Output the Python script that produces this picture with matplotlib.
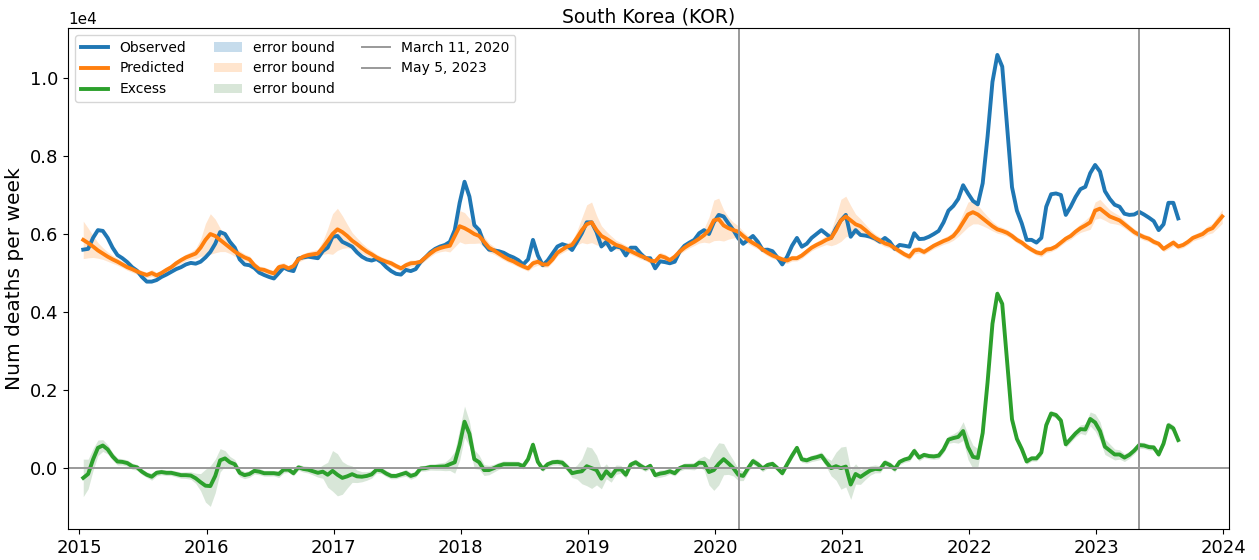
import numpy as np
import matplotlib
matplotlib.use('Agg')
import matplotlib.pyplot as plt

# Weekly deaths, South Korea, sampled every ~2 weeks (decimal years from start_year)
start_year = 2015.03
step = 1 / 26

observed = [
    5600, 5620, 5900, 6100, 6080, 5900, 5650, 5460, 5380, 5280, 5150, 5060, 4900, 4780, 4780, 4820, 4900, 4960, 5030, 5100, 5150, 5220, 5260, 5240, 5290, 5400,
    5540, 5750, 6050, 6000, 5800, 5650, 5350, 5220, 5200, 5130, 5010, 4950, 4900, 4860, 5000, 5140, 5080, 5050, 5370, 5400, 5420, 5400, 5380, 5560, 5650, 5930,
    5950, 5800, 5740, 5675, 5530, 5420, 5350, 5320, 5360, 5280, 5150, 5050, 4980, 4960, 5080, 5050, 5100, 5280, 5400, 5530, 5620, 5680, 5720, 5800, 6100, 6800,
    7340, 6960, 6230, 6100, 5750, 5600, 5580, 5560, 5520, 5450, 5400, 5330, 5220, 5350, 5850, 5450, 5200, 5320, 5500, 5680, 5740, 5700, 5590, 5800, 6020, 6300,
    6300, 6050, 5680, 5800, 5590, 5680, 5650, 5450, 5650, 5650, 5500, 5380, 5380, 5120, 5300, 5280, 5250, 5290, 5550, 5700, 5780, 5850, 6020, 6100, 6000, 6300,
    6490, 6450, 6270, 6100, 5890, 5750, 5850, 5950, 5800, 5590, 5600, 5560, 5400, 5220, 5420, 5700, 5900, 5675, 5750, 5900, 6000, 6100, 6000, 5900, 6150, 6350,
    6490, 5930, 6100, 5975, 5960, 5930, 5880, 5800, 5900, 5800, 5620, 5720, 5700, 5675, 6020, 5870, 5880, 5930, 6000, 6080, 6300, 6600, 6720, 6900, 7250, 7040,
    6850, 6760, 7300, 8500, 9900, 10590, 10290, 8750, 7200, 6600, 6270, 5850, 5850, 5780, 5900, 6700, 7020, 7040, 7000, 6490, 6700, 6950, 7150, 7210, 7560, 7770,
    7600, 7100, 6900, 6750, 6700, 6520, 6490, 6500, 6570, 6500, 6420, 6330, 6100, 6250, 6800, 6800, 6400,
]

predicted = [
    5850, 5770, 5680, 5580, 5500, 5420, 5350, 5290, 5220, 5150, 5100, 5040, 4990, 4950, 5000, 4940, 5000, 5080, 5150, 5250, 5330, 5400, 5450, 5500, 5650, 5850,
    6000, 5950, 5850, 5750, 5650, 5550, 5470, 5400, 5350, 5200, 5100, 5080, 5030, 4990, 5150, 5180, 5120, 5180, 5350, 5420, 5460, 5480, 5500, 5650, 5820, 6000,
    6120, 6050, 5950, 5830, 5740, 5640, 5550, 5480, 5400, 5340, 5290, 5250, 5180, 5120, 5200, 5250, 5260, 5290, 5400, 5500, 5590, 5640, 5675, 5700, 5950, 6200,
    6150, 6080, 6000, 5950, 5800, 5650, 5580, 5500, 5420, 5350, 5300, 5230, 5170, 5120, 5250, 5290, 5220, 5220, 5350, 5520, 5600, 5680, 5720, 5900, 6100, 6250,
    6300, 6100, 5950, 5880, 5800, 5720, 5680, 5620, 5560, 5500, 5440, 5390, 5320, 5300, 5440, 5400, 5330, 5420, 5550, 5650, 5730, 5800, 5880, 5970, 6100, 6350,
    6380, 6220, 6150, 6100, 6060, 5950, 5850, 5770, 5700, 5600, 5520, 5450, 5400, 5350, 5320, 5380, 5380, 5450, 5550, 5650, 5720, 5780, 5850, 5900, 6100, 6350,
    6450, 6350, 6250, 6200, 6100, 5990, 5900, 5830, 5760, 5720, 5640, 5560, 5480, 5420, 5580, 5600, 5540, 5620, 5700, 5760, 5820, 5870, 5950, 6100, 6300, 6500,
    6560, 6500, 6400, 6300, 6200, 6120, 6080, 6030, 5950, 5850, 5780, 5680, 5600, 5530, 5500, 5600, 5620, 5680, 5780, 5880, 5950, 6060, 6150, 6220, 6300, 6600,
    6650, 6550, 6450, 6400, 6350, 6250, 6150, 6050, 5980, 5920, 5880, 5800, 5750, 5620, 5700, 5780, 5680, 5720, 5800, 5900, 5950, 6000, 6100, 6150, 6300, 6450,
]

# half-width of the prediction error bound
bound = [
    480, 380, 280, 200, 150, 120, 100, 90, 80, 80, 80, 75, 75, 70, 90, 80, 70, 70, 70, 75, 80, 85, 95, 130, 220, 420,
    520, 430, 300, 200, 150, 120, 100, 90, 85, 80, 80, 75, 75, 70, 90, 85, 70, 70, 75, 80, 85, 95, 110, 170, 320, 520,
    540, 420, 300, 210, 160, 130, 110, 95, 85, 80, 80, 75, 70, 70, 90, 85, 70, 70, 75, 80, 85, 95, 110, 160, 280, 400,
    400, 320, 240, 180, 140, 120, 100, 90, 85, 80, 80, 75, 70, 70, 100, 90, 70, 70, 75, 80, 85, 95, 110, 180, 320, 500,
    520, 380, 260, 190, 150, 120, 100, 90, 85, 80, 80, 75, 70, 70, 95, 85, 70, 70, 75, 80, 85, 95, 110, 180, 330, 520,
    540, 400, 280, 200, 150, 120, 100, 90, 85, 80, 80, 75, 70, 70, 75, 75, 70, 75, 75, 80, 85, 95, 120, 200, 360, 540,
    520, 380, 260, 190, 150, 120, 100, 90, 85, 80, 80, 75, 70, 80, 95, 85, 70, 70, 75, 80, 85, 95, 110, 160, 240, 320,
    300, 240, 190, 150, 120, 100, 90, 85, 80, 80, 75, 70, 70, 70, 85, 85, 70, 70, 75, 80, 85, 95, 110, 140, 180, 220,
    240, 200, 170, 140, 120, 100, 90, 85, 80, 80, 75, 70, 70, 70, 85, 85, 70, 70, 75, 80, 85, 95, 105, 120, 150, 180,
]

events = [(2020 + 70 / 366, 'March 11, 2020'), (2023 + 124 / 365, 'May 5, 2023')]

obs = np.array(observed, dtype=float)
pred = np.array(predicted, dtype=float)
bnd = np.array(bound, dtype=float)
t_pred = start_year + step * np.arange(len(pred))
t_obs = t_pred[:len(obs)]
excess = obs - pred[:len(obs)]
b_obs = bnd[:len(obs)]

fig = plt.figure(figsize=(12.59, 5.6), dpi=100)
ax = fig.add_axes([68 / 1259, 31 / 560, 1161 / 1259, 501 / 560])

ax.plot(t_obs, obs, color='tab:blue', lw=2.8, label='Observed')
ax.plot(t_pred, pred, color='tab:orange', lw=2.8, label='Predicted')
ax.plot(t_obs, excess, color='tab:green', lw=2.8, label='Excess')
ax.fill_between(t_obs, obs, obs, color='tab:blue', alpha=0.25, lw=0, label='error bound')
ax.fill_between(t_pred, pred - bnd, pred + bnd, color='tab:orange', alpha=0.2, lw=0, label='error bound')
ax.fill_between(t_obs, excess - b_obs, excess + b_obs, color='#7fae7f', alpha=0.3, lw=0, label='error bound')

for t, name in events:
    ax.axvline(t, color='#999999', lw=1.4, label=name)
ax.axhline(0, color='#999999', lw=1.4)

ax.set_xlim(2014.91, 2024.045)
ax.set_ylim(-1560, 11280)
ax.set_xticks(range(2015, 2025))
ax.set_xticklabels([str(y) for y in range(2015, 2025)])
ax.set_yticks(np.arange(0, 10001, 2000))
ax.ticklabel_format(axis='y', style='sci', scilimits=(4, 4))
ax.yaxis.get_offset_text().set_fontsize(11)
ax.tick_params(labelsize=13)

ax.set_ylabel('Num deaths per week', fontsize=14.5)
ax.set_title('South Korea (KOR)', fontsize=13.5, pad=4)
ax.legend(loc='upper left', ncol=3, fontsize=10)

fig.savefig('out.png', dpi=100)
